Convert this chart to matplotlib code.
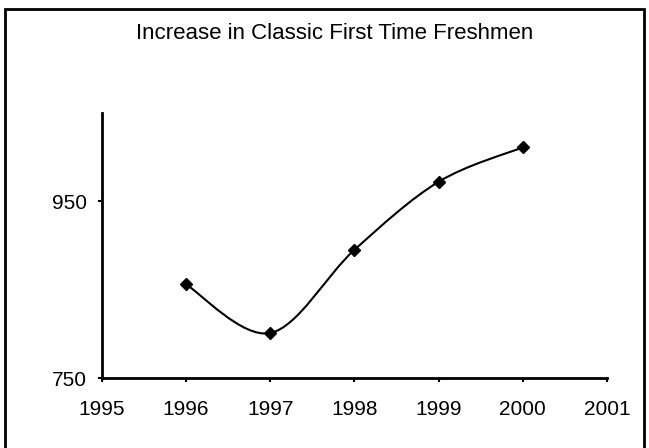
import matplotlib
matplotlib.use("Agg")
import matplotlib.pyplot as plt
import numpy as np
from matplotlib.path import Path
from matplotlib.patches import PathPatch, Rectangle

plt.rcParams["font.family"] = ["Liberation Sans", "DejaVu Sans"]

years = [1996, 1997, 1998, 1999, 2000]
freshmen = [856, 801, 895, 972, 1011]
y_ticks = [750, 950]
x_ticks = [1995, 1996, 1997, 1998, 1999, 2000, 2001]


def smooth_path(xs, ys):
    """Excel-style smoothed line: cubic Bezier segments (Catmull-Rom tangents)."""
    pts = np.column_stack([xs, ys]).astype(float)
    n = len(pts)
    verts = [pts[0]]
    codes = [Path.MOVETO]
    for i in range(n - 1):
        p0 = pts[i - 1] if i > 0 else pts[i]
        p1, p2 = pts[i], pts[i + 1]
        p3 = pts[i + 2] if i + 2 < n else pts[i + 1]
        c1 = p1 + (p2 - p0) / 6.0
        c2 = p2 - (p3 - p1) / 6.0
        verts += [c1, c2, p2]
        codes += [Path.CURVE4] * 3
    return Path(verts, codes)


fig = plt.figure(figsize=(6.49, 4.48), dpi=100)
ax = fig.add_axes([0.157, 0.156, 0.778, 0.592])

ax.add_patch(PathPatch(smooth_path(years, freshmen), fill=False, lw=1.5, color="black"))
ax.plot(years, freshmen, ls="none", marker="D", ms=6.5, color="black")

ax.set_xlim(1995, 2001)
ax.set_ylim(750, 1050)
ax.set_xticks(x_ticks)
ax.set_yticks(y_ticks)
ax.tick_params(axis="both", direction="out", length=3, width=1.5, labelsize=15, color="black")
ax.tick_params(axis="y", pad=8)
ax.tick_params(axis="x", pad=13)
for side in ("top", "right"):
    ax.spines[side].set_visible(False)
for side in ("left", "bottom"):
    ax.spines[side].set_linewidth(2)

fig.text(0.516, 0.926, "Increase in Classic First Time Freshmen", ha="center", va="center", fontsize=16)

# outer frame round the chart
fig.patches.append(Rectangle((0.008, -0.01), 0.985, 0.99, transform=fig.transFigure,
                             fill=False, lw=2, color="black"))

fig.savefig("out.png", dpi=100)
